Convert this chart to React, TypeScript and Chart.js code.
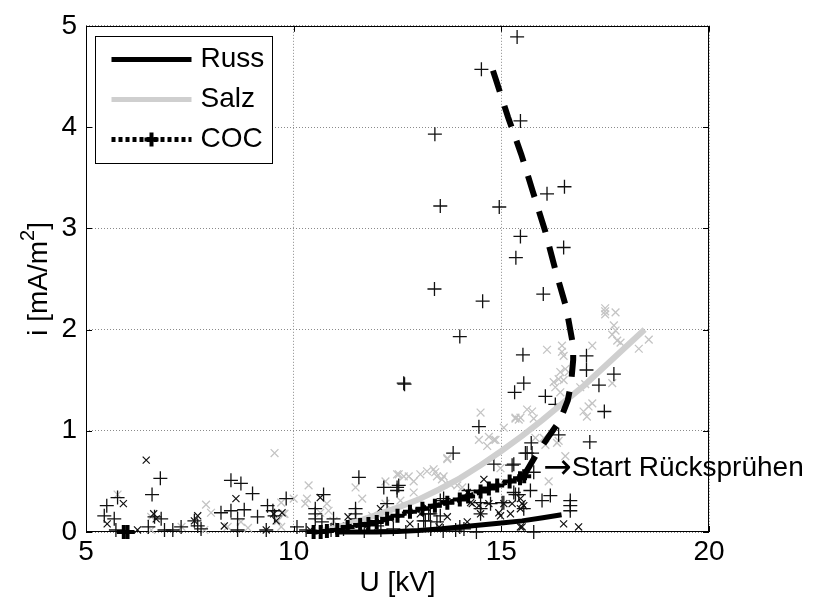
import React, { useEffect, useRef } from 'react';
import { Chart, registerables } from 'chart.js';

Chart.register(...registerables);

const FONT = '"Liberation Sans", Arial, Helvetica, sans-serif';
const ARROW_FONT = '"DejaVu Sans", sans-serif';
const FS = 28;

// axis ranges / ticks
const xMin = 5, xMax = 20, xStep = 5;
const yMin = 0, yMax = 5, yStep = 1;
const xTitle = 'U [kV]';
const yTitleMain = 'i [mA/m';
const yTitleSup = '2';
const yTitleEnd = ']';

// legend labels
const legendLabels = ['Russ', 'Salz', 'COC'];

// annotation
const annArrow = '→';
const annText = 'Start Rücksprühen';
const annX = 16.06;
const annY = 0.63;

// COC measured points (+)
const cocX = [15.38, 14.52, 15.46, 13.40, 16.10, 16.52, 13.53, 14.95, 15.46, 16.50, 15.35, 13.39, 14.55, 16.01, 14.00, 15.52, 12.65, 12.67, 15.54, 15.32, 16.06, 14.46, 16.30, 17.05, 17.05, 17.71, 17.35, 17.48, 16.38, 17.13, 15.72, 15.62, 15.30, 15.78, 15.70, 16.18, 15.98, 15.30, 16.66, 16.66, 16.66, 15.78, 15.54, 13.84, 12.53, 14.82, 15.26, 15.74, 15.58, 14.50, 14.74, 15.02, 15.42, 12.17, 13.53, 13.29, 14.50, 13.13, 13.61, 14.50, 15.06, 15.34, 13.25, 13.17, 13.45, 13.53, 14.21, 11.57, 10.72, 12.49, 12.49, 12.25, 10.52, 10.52, 10.52, 11.49, 11.49, 11.49, 10.96, 10.68, 10.08, 12.01, 6.79, 6.59, 5.76, 5.50, 5.44, 5.68, 6.65, 6.81, 6.89, 7.09, 7.29, 7.61, 7.69, 7.77, 8.49, 8.73, 9.01, 8.25, 8.49, 8.65, 8.81, 8.65, 9.13, 9.37, 9.50, 9.82, 9.54, 9.34, 5.72, 6.50, 10.30, 10.90, 11.20, 11.70, 12.10, 12.40, 12.70, 13.00, 13.30, 13.60, 13.90, 14.10, 14.40, 14.00];
const cocY = [4.89, 4.57, 4.06, 3.93, 3.34, 3.41, 3.22, 3.21, 2.92, 2.81, 2.71, 2.40, 2.28, 2.35, 1.93, 1.75, 1.47, 1.46, 1.47, 1.38, 1.34, 1.04, 1.26, 1.74, 1.60, 1.56, 1.45, 1.19, 0.96, 0.89, 0.88, 0.78, 0.67, 0.59, 0.41, 0.36, 0.31, 0.39, 0.31, 0.26, 0.21, 0.00, 0.23, 0.78, 0.46, 0.67, 0.66, 0.78, 0.78, 0.29, 0.28, 0.29, 0.37, 0.44, 0.31, 0.18, 0.18, 0.11, 0.33, 0.23, 0.29, 0.37, 0.18, 0.11, 0.10, 0.16, 0.41, 0.54, 0.37, 0.44, 0.41, 0.28, 0.23, 0.18, 0.13, 0.23, 0.18, 0.13, 0.13, 0.10, 0.05, 0.06, 0.53, 0.37, 0.34, 0.26, 0.16, 0.13, 0.15, 0.13, 0.02, 0.02, 0.05, 0.11, 0.06, 0.03, 0.51, 0.48, 0.38, 0.19, 0.21, 0.13, 0.22, 0.02, 0.15, 0.26, 0.21, 0.33, 0.16, 0.02, 0.02, 0.05, 0.02, 0.02, 0.03, 0.01, 0.02, 0.03, 0.00, 0.02, 0.03, 0.01, 0.02, 0.03, 0.00, 0.05];

// Russ measured points (x)
const russX = [6.45, 5.90, 5.51, 6.63, 6.69, 8.61, 7.61, 7.69, 8.33, 9.34, 9.58, 9.52, 6.24, 10.64, 11.31, 12.09, 11.77, 12.33, 9.72, 14.58, 14.18, 14.30, 14.46, 14.70, 14.98, 15.22, 15.46, 15.46, 13.70, 13.21, 13.05, 14.18, 14.94, 15.26, 15.50, 16.50, 16.86, 14.26, 15.54, 14.50, 15.50, 15.06, 15.46, 12.80, 13.50, 11.00, 10.40];
const russY = [0.71, 0.28, 0.08, 0.18, 0.13, 0.33, 0.11, 0.16, 0.06, 0.02, 0.11, 0.18, 0.02, 0.34, 0.15, 0.23, 0.03, 0.13, 0.19, 0.52, 0.39, 0.28, 0.26, 0.28, 0.16, 0.18, 0.23, 0.05, 0.15, 0.24, 0.18, 0.10, 0.19, 0.28, 0.05, 0.08, 0.05, 0.29, 0.26, 0.18, 0.28, 0.28, 0.33, 0.08, 0.05, 0.05, 0.02];

// Salz measured points (x, grey)
const salzX = [9.54, 5.76, 7.89, 8.01, 6.57, 9.70, 9.78, 9.70, 8.41, 8.73, 7.85, 6.57, 9.62, 10.36, 10.32, 10.80, 11.49, 11.65, 12.21, 12.49, 10.00, 10.64, 10.96, 9.76, 12.65, 10.28, 10.84, 11.89, 12.57, 14.50, 15.34, 15.46, 14.46, 14.70, 14.86, 14.66, 13.70, 13.05, 13.21, 13.37, 13.45, 13.57, 12.77, 12.89, 13.77, 13.94, 14.06, 14.98, 17.50, 17.50, 17.50, 17.75, 17.71, 17.75, 17.67, 17.79, 17.19, 16.10, 16.46, 16.42, 16.54, 16.62, 16.38, 16.50, 16.30, 16.42, 16.90, 17.02, 17.10, 16.98, 17.06, 15.74, 15.78, 15.34, 15.42, 15.06, 16.02, 16.06, 16.54, 16.14, 15.82, 17.87, 18.31, 18.55, 17.67, 17.19, 16.38, 15.62, 14.82, 16.34, 12.89, 12.21, 13.41, 13.61, 12.53, 13.70, 16.26, 16.46, 16.50, 7.30, 8.90];
const salzY = [0.78, 0.37, 0.27, 0.19, 0.15, 0.29, 0.18, 0.05, 0.05, 0.10, 0.02, 0.02, 0.11, 0.46, 0.33, 0.28, 0.44, 0.33, 0.50, 0.57, 0.33, 0.19, 0.11, 0.18, 0.55, 0.28, 0.21, 0.16, 0.31, 1.18, 1.13, 1.13, 0.91, 0.94, 0.91, 0.85, 0.72, 0.57, 0.60, 0.62, 0.55, 0.52, 0.55, 0.50, 0.47, 0.46, 0.44, 0.63, 2.21, 2.18, 2.15, 2.17, 2.04, 1.99, 1.95, 1.89, 1.84, 1.80, 1.78, 1.58, 1.61, 1.58, 1.51, 1.50, 1.43, 1.38, 1.43, 1.46, 1.24, 1.19, 1.14, 1.19, 1.12, 1.12, 1.11, 1.03, 0.93, 0.86, 0.75, 0.50, 0.93, 1.87, 1.81, 1.90, 1.47, 1.27, 0.90, 1.21, 0.91, 0.88, 0.39, 0.28, 0.59, 0.55, 0.57, 0.73, 1.48, 1.84, 1.74, 0.05, 0.04];

// fitted curves
const russFitX = [11.0, 12.0, 12.5, 13.0, 13.5, 14.0, 14.5, 15.0, 15.5, 16.0, 16.45];
const russFitY = [0.0, 0.0, 0.005, 0.015, 0.03, 0.05, 0.07, 0.09, 0.11, 0.14, 0.17];

const salzFitX = [10.6, 11.0, 11.5, 12.0, 12.5, 13.0, 13.5, 14.0, 14.5, 15.0, 15.5, 16.0, 16.5, 17.0, 17.5, 18.0, 18.45];
const salzFitY = [0.0, 0.04, 0.10, 0.17, 0.24, 0.32, 0.42, 0.53, 0.66, 0.80, 0.95, 1.11, 1.28, 1.45, 1.64, 1.83, 2.0];

const cocFitX = [10.48, 10.65, 10.8, 11.05, 11.3, 11.6, 11.8, 12.0, 12.25, 12.5, 12.8, 13.1, 13.4, 13.7, 14.0, 14.2, 14.5, 14.7, 14.9, 15.2, 15.45, 15.55];
const cocFitY = [0.0, 0.0, 0.01, 0.02, 0.05, 0.07, 0.08, 0.10, 0.13, 0.16, 0.20, 0.23, 0.26, 0.29, 0.32, 0.35, 0.40, 0.43, 0.46, 0.50, 0.53, 0.55];
const cocFitLowX = [5.91, 6.0];
const cocFitLowY = [0.0, 0.0];

const cocBackX = [15.55, 15.85, 16.15, 16.41, 16.6, 16.68, 16.73, 16.73, 16.56, 16.30, 16.05, 15.76, 15.48, 15.16, 14.86, 14.78];
const cocBackY = [0.56, 0.77, 0.95, 1.10, 1.30, 1.47, 1.70, 1.84, 2.22, 2.59, 2.98, 3.36, 3.73, 4.10, 4.48, 4.58];

const GREY = '#cfcfcf';
const GREY_PT = '#c4c4c4';

const pts = (xs: number[], ys: number[]) => xs.map((x, i) => ({ x, y: ys[i] }));

const framePlugin = {
  id: 'frame',
  beforeDatasetsDraw(chart: any) {
    const { ctx, chartArea: a, scales } = chart;
    ctx.save();
    ctx.strokeStyle = '#000';
    ctx.lineWidth = 1;
    ctx.strokeRect(Math.round(a.left) + 0.5, Math.round(a.top) + 0.5, Math.round(a.right - a.left) - 1, Math.round(a.bottom - a.top) - 1);
    const tl = 6;
    ctx.beginPath();
    for (let v = xMin; v <= xMax; v += xStep) {
      const px = Math.round(scales.x.getPixelForValue(v)) + 0.5;
      ctx.moveTo(px, a.bottom); ctx.lineTo(px, a.bottom - tl);
      ctx.moveTo(px, a.top); ctx.lineTo(px, a.top + tl);
    }
    for (let v = yMin; v <= yMax; v += yStep) {
      const py = Math.round(scales.y.getPixelForValue(v)) + 0.5;
      ctx.moveTo(a.left, py); ctx.lineTo(a.left + tl, py);
      ctx.moveTo(a.right, py); ctx.lineTo(a.right - tl, py);
    }
    ctx.stroke();

    // y axis title with real superscript
    const cy = (a.top + a.bottom) / 2;
    ctx.translate(47, cy);
    ctx.rotate(-Math.PI / 2);
    ctx.fillStyle = '#000';
    ctx.textBaseline = 'alphabetic';
    ctx.textAlign = 'left';
    const fMain = `${FS}px ${FONT}`;
    const fSup = `${Math.round(FS * 0.72)}px ${FONT}`;
    ctx.font = fMain;
    const w1 = ctx.measureText(yTitleMain).width;
    const w3 = ctx.measureText(yTitleEnd).width;
    ctx.font = fSup;
    const w2 = ctx.measureText(yTitleSup).width;
    const x0 = -(w1 + w2 + w3) / 2;
    ctx.font = fMain;
    ctx.fillText(yTitleMain, x0, 0);
    ctx.font = fSup;
    ctx.fillText(yTitleSup, x0 + w1, -FS * 0.45);
    ctx.font = fMain;
    ctx.fillText(yTitleEnd, x0 + w1 + w2, 0);
    ctx.restore();
  },
  afterDatasetsDraw(chart: any) {
    const { ctx, scales } = chart;
    ctx.save();
    ctx.fillStyle = '#000';
    ctx.textAlign = 'left';
    ctx.textBaseline = 'middle';
    const px = scales.x.getPixelForValue(annX);
    const py = scales.y.getPixelForValue(annY);
    ctx.font = `${FS + 6}px ${ARROW_FONT}`;
    ctx.fillText(annArrow, px - 2, py + 1);
    const aw = ctx.measureText(annArrow).width;
    ctx.font = `${FS}px ${FONT}`;
    ctx.fillText(annText, px - 2 + aw, py);
    ctx.restore();
  },
  afterDraw(chart: any) {
    const { ctx, chartArea: a } = chart;
    const bx = Math.round(a.left) + 9.5, by = Math.round(a.top) + 10.5, bw = 177, bh = 127;
    ctx.save();
    ctx.fillStyle = '#fff';
    ctx.fillRect(bx, by, bw, bh);
    ctx.strokeStyle = '#000';
    ctx.lineWidth = 1;
    ctx.strokeRect(bx, by, bw, bh);
    const x1 = bx + 16, x2 = bx + 96, tx = bx + 105;
    const rows = [by + 23, by + 63, by + 103];
    ctx.lineWidth = 5; ctx.strokeStyle = '#000';
    ctx.beginPath(); ctx.moveTo(x1, rows[0]); ctx.lineTo(x2, rows[0]); ctx.stroke();
    ctx.strokeStyle = GREY;
    ctx.beginPath(); ctx.moveTo(x1, rows[1]); ctx.lineTo(x2, rows[1]); ctx.stroke();
    ctx.strokeStyle = '#000';
    ctx.setLineDash([4, 3]);
    ctx.beginPath(); ctx.moveTo(x1, rows[2]); ctx.lineTo(x2, rows[2]); ctx.stroke();
    ctx.setLineDash([]);
    const cx = (x1 + x2) / 2;
    ctx.lineWidth = 4;
    ctx.beginPath();
    ctx.moveTo(cx - 7, rows[2]); ctx.lineTo(cx + 7, rows[2]);
    ctx.moveTo(cx, rows[2] - 7); ctx.lineTo(cx, rows[2] + 7);
    ctx.stroke();
    ctx.fillStyle = '#000';
    ctx.font = `${FS}px ${FONT}`;
    ctx.textAlign = 'left';
    ctx.textBaseline = 'middle';
    legendLabels.forEach((t, i) => ctx.fillText(t, tx, rows[i]));
    ctx.restore();
  },
};

export default function App() {
  const ref = useRef<HTMLCanvasElement>(null);
  useEffect(() => {
    if (!ref.current) return;
    const chart = new Chart(ref.current, {
      type: 'scatter',
      data: {
        datasets: [
          { label: 'COC back', data: pts(cocBackX, cocBackY), showLine: true, borderColor: '#000', borderWidth: 6, borderDash: [22, 15], pointRadius: 0, order: 0, clip: false } as any,
          { label: 'COC', data: pts(cocFitX, cocFitY), showLine: true, borderColor: '#000', borderWidth: 5, borderDash: [4, 3], pointStyle: 'cross', pointRadius: 7, pointBorderWidth: 4, pointBorderColor: '#000', order: 1, clip: false } as any,
          { label: 'COC low', data: pts(cocFitLowX, cocFitLowY), showLine: false, pointStyle: 'cross', pointRadius: 7, pointBorderWidth: 4, pointBorderColor: '#000', order: 1, clip: false } as any,
          { label: 'Russ', data: pts(russFitX, russFitY), showLine: true, borderColor: '#000', borderWidth: 5, pointRadius: 0, order: 2, clip: false } as any,
          { label: 'Salz', data: pts(salzFitX, salzFitY), showLine: true, borderColor: GREY, borderWidth: 6, pointRadius: 0, order: 3, clip: false } as any,
          { label: 'COC pts', data: pts(cocX, cocY), pointStyle: 'cross', pointRadius: 7, pointBorderWidth: 1.3, pointBorderColor: '#111', order: 4, clip: false } as any,
          { label: 'Russ pts', data: pts(russX, russY), pointStyle: 'crossRot', pointRadius: 5, pointBorderWidth: 1.2, pointBorderColor: '#111', order: 5, clip: false } as any,
          { label: 'Salz pts', data: pts(salzX, salzY), pointStyle: 'crossRot', pointRadius: 5.5, pointBorderWidth: 1.3, pointBorderColor: GREY_PT, order: 6, clip: false } as any,
        ],
      },
      options: {
        responsive: false,
        animation: false,
        events: [],
        layout: { padding: { left: 0, right: 104, top: 20, bottom: 0 } },
        plugins: { legend: { display: false }, tooltip: { enabled: false } },
        scales: {
          x: {
            type: 'linear', min: xMin, max: xMax,
            ticks: { stepSize: xStep, color: '#000', font: { family: FONT, size: FS }, padding: 3, maxRotation: 0 },
            grid: { color: '#8a8a8a', lineWidth: 1, drawTicks: false },
            border: { display: false, dash: [1, 2] },
            title: { display: true, text: xTitle, color: '#000', font: { family: FONT, size: FS }, padding: { top: 0, bottom: 7 } },
            afterFit: (s: any) => { s.height = 75; },
          },
          y: {
            type: 'linear', min: yMin, max: yMax,
            ticks: { stepSize: yStep, color: '#000', font: { family: FONT, size: FS }, padding: 9 },
            grid: { color: '#8a8a8a', lineWidth: 1, drawTicks: false },
            border: { display: false, dash: [1, 2] },
            title: { display: false },
            afterFit: (s: any) => { s.width = 86; },
          },
        },
      } as any,
      plugins: [framePlugin],
    });
    return () => chart.destroy();
  }, []);
  return (
    <div style={{ position: 'fixed', left: 0, top: 0, width: 813, height: 607, background: '#fff' }}>
      <canvas ref={ref} width={813} height={607} style={{ display: 'block' }} />
    </div>
  );
}
